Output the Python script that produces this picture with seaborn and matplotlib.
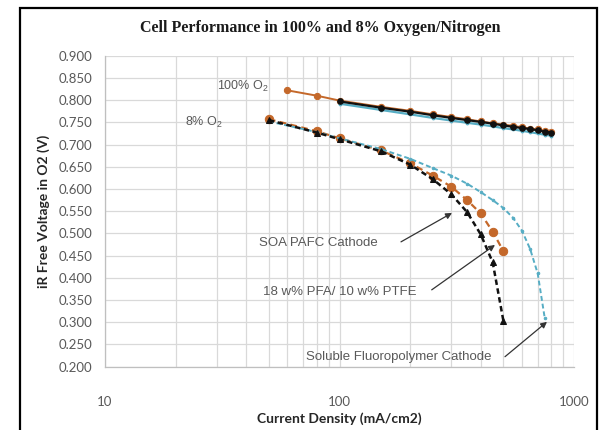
import matplotlib
matplotlib.use("Agg")
import matplotlib.pyplot as plt
import seaborn as sns
import pandas as pd
from matplotlib.ticker import FixedLocator, NullLocator, FuncFormatter, LogLocator
from matplotlib.patches import Rectangle

# Current density (mA/cm2) and iR-free voltage (V)
# 100% oxygen
o2_100_soa_x = [60, 80, 100, 150, 200, 250, 300, 350, 400, 450, 500, 550, 600, 650, 700, 750, 800]
o2_100_soa_v = [0.822, 0.810, 0.799, 0.785, 0.776, 0.768, 0.762, 0.757, 0.752, 0.748, 0.745, 0.742,
                0.739, 0.736, 0.734, 0.731, 0.729]
o2_100_pfa_x = [100, 150, 200, 250, 300, 350, 400, 450, 500, 550, 600, 650, 700, 750, 800]
o2_100_pfa_v = [0.797, 0.783, 0.774, 0.766, 0.760, 0.755, 0.751, 0.747, 0.743, 0.740, 0.737,
                0.735, 0.732, 0.729, 0.727]
o2_100_sol_x = [100, 150, 200, 250, 300, 350, 400, 450, 500, 550, 600, 650, 700, 750, 800]
o2_100_sol_v = [0.792, 0.778, 0.768, 0.760, 0.754, 0.749, 0.745, 0.741, 0.737, 0.734, 0.731,
                0.728, 0.725, 0.722, 0.720]

# 8% oxygen in nitrogen
o2_8_soa_x = [50, 80, 100, 150, 200, 250, 300, 350, 400, 450, 500]
o2_8_soa_v = [0.755, 0.727, 0.712, 0.685, 0.655, 0.622, 0.588, 0.548, 0.498, 0.435, 0.303]
o2_8_pfa_x = [50, 80, 100, 150, 200, 250, 300, 350, 400, 450, 500]
o2_8_pfa_v = [0.757, 0.730, 0.714, 0.687, 0.658, 0.630, 0.605, 0.575, 0.545, 0.504, 0.460]
o2_8_sol_x = [50, 80, 100, 150, 200, 250, 300, 350, 400, 450, 500, 550, 600, 650, 700, 750]
o2_8_sol_v = [0.752, 0.728, 0.714, 0.690, 0.668, 0.647, 0.630, 0.612, 0.593, 0.575, 0.557,
              0.535, 0.506, 0.465, 0.410, 0.310]

y_ticks = [0.20, 0.25, 0.30, 0.35, 0.40, 0.45, 0.50, 0.55, 0.60, 0.65, 0.70, 0.75, 0.80, 0.85, 0.90]
x_ticks = [10, 100, 1000]

ORANGE = "#C4682A"
AQUA = "#56ADC4"
BLACK = "#111111"
GRID = "#D9D9D9"
TEXT = "#595959"

sns.set_style("white")
plt.rcParams["font.family"] = ["Lato", "DejaVu Sans"]
plt.rcParams["mathtext.fontset"] = "custom"
plt.rcParams["mathtext.rm"] = "Liberation Sans"
plt.rcParams["mathtext.it"] = "Liberation Sans:italic"

fig = plt.figure(figsize=(6.05, 4.30), dpi=100)
ax = fig.add_axes([105 / 605, 1 - 366.7 / 430, (574 - 105) / 605, (366.7 - 55.7) / 430])


def draw(x, v, **kw):
    df = pd.DataFrame({"cd": x, "v": v})
    sns.lineplot(data=df, x="cd", y="v", ax=ax, legend=False, sort=True, **kw)


# 8% O2 curves
draw(o2_8_pfa_x, o2_8_pfa_v, color=ORANGE, lw=1.6, linestyle=(0, (3, 2)), marker="o",
     markersize=6, markeredgecolor=ORANGE)
draw(o2_8_sol_x, o2_8_sol_v, color=AQUA, lw=1.4, linestyle=(0, (2.5, 1.5)), marker="o",
     markersize=1.8, markeredgecolor=AQUA)
draw(o2_8_soa_x, o2_8_soa_v, color=BLACK, lw=1.8, linestyle=(0, (2.2, 1.4)), marker="^",
     markersize=5, markeredgecolor=BLACK)

# 100% O2 curves
draw(o2_100_soa_x, o2_100_soa_v, color=ORANGE, lw=1.4, marker="o", markersize=4.5,
     markeredgecolor=ORANGE)
draw(o2_100_sol_x, o2_100_sol_v, color=AQUA, lw=1.6, marker="o", markersize=2,
     markeredgecolor=AQUA)
draw(o2_100_pfa_x, o2_100_pfa_v, color=BLACK, lw=1.6, marker="o", markersize=4,
     markeredgecolor=BLACK)

ax.set_xscale("log")
ax.set_xlim(10, 1000)
ax.set_ylim(0.2, 0.9)
ax.xaxis.set_major_locator(FixedLocator(x_ticks))
ax.xaxis.set_minor_locator(LogLocator(base=10, subs=range(2, 10)))
ax.xaxis.set_major_formatter(FuncFormatter(lambda v, p: f"{v:g}"))
ax.yaxis.set_major_locator(FixedLocator(y_ticks))
ax.yaxis.set_minor_locator(NullLocator())
ax.yaxis.set_major_formatter(FuncFormatter(lambda v, p: f"{v:.3f}"))

ax.grid(True, which="both", axis="x", color=GRID, lw=0.9)
ax.grid(True, which="major", axis="y", color=GRID, lw=0.9)
ax.set_axisbelow(True)

for side in ["top", "right"]:
    ax.spines[side].set_visible(False)
for side in ["left", "bottom"]:
    ax.spines[side].set_color("#BFBFBF")
    ax.spines[side].set_linewidth(0.9)

ax.tick_params(axis="both", which="major", direction="out", length=5, width=0.8,
               color="#BFBFBF", labelcolor=TEXT, labelsize=9.5)
ax.tick_params(axis="x", which="major", pad=16)
ax.tick_params(axis="y", which="major", pad=4)
ax.tick_params(axis="x", which="minor", length=0)

ax.set_xlabel("Current Density (mA/cm2)", fontsize=10, fontweight="bold", color="#262626",
              labelpad=3)
ax.set_ylabel("iR Free Voltage in O2 (V)", fontsize=10, fontweight="bold", color="#262626",
              labelpad=6)

fig.text(0.53, 1 - 28 / 430, "Cell Performance in 100% and 8% Oxygen/Nitrogen",
         ha="center", va="center", fontsize=11.5, fontweight="bold",
         family=["Liberation Serif"], color="#1a1a1a")

# series labels
lbl = dict(fontsize=9, color=TEXT, family=["Liberation Sans"], va="center", ha="center")
ax.text(38.8, 0.830, "100% O$_2$", **lbl)
ax.text(26.4, 0.749, "8% O$_2$", **lbl)
lbl["fontsize"] = 9.5
ax.text(80.9, 0.478, "SOA PAFC Cathode", **lbl)
ax.text(100, 0.369, "18 w% PFA/ 10 w% PTFE", **lbl)
ax.text(179.7, 0.221, "Soluble Fluoropolymer Cathode", **lbl)

# pointer arrows from labels to curves
arrow = dict(arrowstyle="-|>", color="#333333", lw=0.9, mutation_scale=9,
             shrinkA=0, shrinkB=0)
ax.annotate("", xy=(301.8, 0.546), xytext=(182.9, 0.481), arrowprops=arrow)
ax.annotate("", xy=(460.3, 0.474), xytext=(247.3, 0.373), arrowprops=arrow)
ax.annotate("", xy=(767, 0.301), xytext=(507.8, 0.2225), arrowprops=arrow)

# outer frame
fig.patches.append(Rectangle((20 / 605, -0.05), (597 - 20) / 605, 1 - 8 / 430 + 0.05,
                             transform=fig.transFigure, fill=False, lw=1.6,
                             edgecolor="black", clip_on=False))

fig.savefig("out.png", dpi=100)
